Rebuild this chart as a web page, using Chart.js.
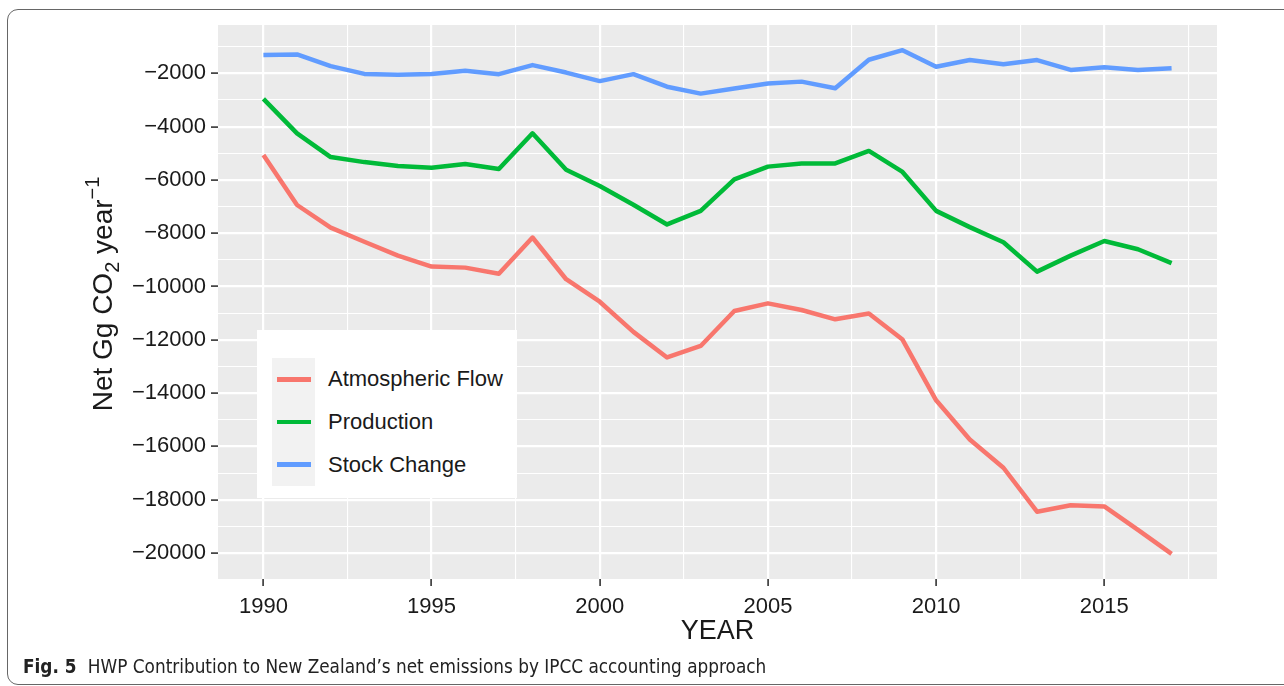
<!DOCTYPE html>
<html>
<head>
<meta charset="utf-8">
<script src="https://cdn.jsdelivr.net/npm/chart.js@4.4.1/dist/chart.umd.min.js"></script>
<style>
  body { margin: 0; background: #fff; }
  #wrap { position: relative; width: 1284px; height: 686px; overflow: hidden; }
  #chart { position: absolute; left: 0; top: 0; }
  #frame { position: absolute; left: 7px; top: 9px; width: 1320px; height: 676px; border: 1px solid #666;
           border-radius: 11px; box-sizing: border-box; pointer-events: none; }
  #caption { position: absolute; left: 23px; top: 656px; font-family: 'Liberation Sans Narrow', 'DejaVu Sans Condensed', sans-serif;
             font-size: 18.8px; color: #222; white-space: nowrap; }
  #caption b { margin-right: 6px; }
  #legend { position: absolute; left: 257px; top: 330px; width: 260px; height: 168px; background: #fff;
            box-sizing: border-box; padding: 28px 0 0 15px; font: 22px 'Liberation Sans', Arial, sans-serif; color: #1a1a1a; }
  #legend .row { display: flex; align-items: center; height: 42.67px; }
  #legend .key { width: 43px; height: 100%; background: #f2f2f2; display: flex; align-items: center; justify-content: center; }
  #legend .key i { display: block; width: 34px; height: 4.5px; }
  #legend .txt { margin-left: 13px; }
</style>
</head>
<body>
<div id="wrap">
  <canvas id="chart" width="1284" height="686"></canvas>
  <div id="legend"></div>
  <div id="frame"></div>
  <div id="caption"><b>Fig. 5</b> HWP Contribution to New Zealand’s net emissions by IPCC accounting approach</div>
</div>
<script>
// données (Gg CO2 / an)
const years = [1990, 1991, 1992, 1993, 1994, 1995, 1996, 1997, 1998, 1999, 2000, 2001, 2002, 2003,
               2004, 2005, 2006, 2007, 2008, 2009, 2010, 2011, 2012, 2013, 2014, 2015, 2016, 2017];

const atmosphericFlow = [-5060, -6940, -7790, -8320, -8840, -9250, -9290, -9520, -8160, -9725,
                         -10570, -11700, -12660, -12230, -10920, -10630, -10880, -11230, -11010, -11990,
                         -14270, -15740, -16800, -18450, -18210, -18250, -19130, -20030];

const production = [-2960, -4250, -5140, -5330, -5480, -5540, -5400, -5590, -4250, -5620,
                    -6230, -6930, -7670, -7160, -5980, -5500, -5380, -5380, -4910, -5700,
                    -7160, -7770, -8340, -9440, -8840, -8290, -8600, -9120];

const stockChange = [-1310, -1290, -1730, -2020, -2050, -2020, -1900, -2030, -1690, -1970,
                     -2290, -2030, -2500, -2760, -2570, -2380, -2310, -2560, -1490, -1130,
                     -1750, -1500, -1660, -1500, -1870, -1770, -1870, -1810];

const seriesNames = ['Atmospheric Flow', 'Production', 'Stock Change'];
const seriesColors = ['#F8766D', '#00BA38', '#619CFF'];

// graduations (majeures + mineures comme ggplot)
const xBreaks = [1990, 1992.5, 1995, 1997.5, 2000, 2002.5, 2005, 2007.5, 2010, 2012.5, 2015, 2017.5];
const xMajor = [1990, 1995, 2000, 2005, 2010, 2015];
const yBreaks = [-20000, -19000, -18000, -17000, -16000, -15000, -14000, -13000, -12000, -11000,
                 -10000, -9000, -8000, -7000, -6000, -5000, -4000, -3000, -2000, -1000];
const yMajor = [-20000, -18000, -16000, -14000, -12000, -10000, -8000, -6000, -4000, -2000];

// étendue +5% comme ggplot
const allValues = atmosphericFlow.concat(production, stockChange);
const yLo = Math.min(...allValues), yHi = Math.max(...allValues);
const yPad = (yHi - yLo) * 0.05;
const xPad = (years[years.length - 1] - years[0]) * 0.05;

const textColor = '#1a1a1a';
const tickFont = { family: "'Liberation Sans', Arial, sans-serif", size: 22 };

function isMajor(list, v) {
    return list.some(m => Math.abs(m - v) < 1e-6);
}

const panelBackground = {
    id: 'panelBackground',
    beforeDraw(chart) {
        const { ctx, chartArea } = chart;
        ctx.save();
        ctx.fillStyle = '#EBEBEB';
        ctx.fillRect(chartArea.left, chartArea.top, chartArea.right - chartArea.left, chartArea.bottom - chartArea.top);
        ctx.restore();
    }
};

// titre de l'axe Y avec indice et exposant
const yTitle = {
    id: 'yTitle',
    afterDraw(chart) {
        const { ctx, chartArea } = chart;
        const parts = [['Net Gg CO', 0, 28], ['2', 7, 20], [' year', 0, 28], ['\u22121', -13, 20]];
        ctx.save();
        ctx.translate(112, (chartArea.top + chartArea.bottom) / 2 - 8);
        ctx.rotate(-Math.PI / 2);
        ctx.fillStyle = textColor;
        ctx.textBaseline = 'alphabetic';
        let total = 0;
        parts.forEach(p => {
            ctx.font = p[2] + "px 'Liberation Sans', Arial, sans-serif";
            total += ctx.measureText(p[0]).width;
        });
        let x = -total / 2;
        parts.forEach(p => {
            ctx.font = p[2] + "px 'Liberation Sans', Arial, sans-serif";
            ctx.fillText(p[0], x, p[1]);
            x += ctx.measureText(p[0]).width;
        });
        ctx.restore();
    }
};

// légende HTML construite à partir des datasets
const htmlLegend = {
    id: 'htmlLegend',
    afterUpdate(chart) {
        const box = document.getElementById('legend');
        box.innerHTML = '';
        chart.data.datasets.forEach(ds => {
            const row = document.createElement('div');
            row.className = 'row';
            const key = document.createElement('span');
            key.className = 'key';
            const line = document.createElement('i');
            line.style.background = ds.borderColor;
            key.appendChild(line);
            const txt = document.createElement('span');
            txt.className = 'txt';
            txt.textContent = ds.label;
            row.appendChild(key);
            row.appendChild(txt);
            box.appendChild(row);
        });
    }
};

const seriesData = [atmosphericFlow, production, stockChange];

const ctx = document.getElementById('chart').getContext('2d');
const myChart = new Chart(ctx, {
    type: 'line',
    data: {
        datasets: seriesData.map((values, i) => ({
            label: seriesNames[i],
            data: years.map((yr, j) => ({ x: yr, y: values[j] })),
            borderColor: seriesColors[i],
            backgroundColor: seriesColors[i],
            borderWidth: 4.5,
            borderJoinStyle: 'round',
            pointRadius: 0,
            tension: 0,
            fill: false
        }))
    },
    options: {
        responsive: false,
        animation: false,
        events: [],
        layout: { padding: { top: 25, right: 67, left: 0, bottom: 0 } },
        plugins: {
            legend: { display: false },
            tooltip: { enabled: false }
        },
        scales: {
            x: {
                type: 'linear',
                min: years[0] - xPad,
                max: years[years.length - 1] + xPad,
                afterBuildTicks: axis => { axis.ticks = xBreaks.map(v => ({ value: v })); },
                afterFit: axis => { axis.height = 107; },
                border: { display: false },
                grid: {
                    color: '#FFFFFF',
                    lineWidth: c => isMajor(xMajor, c.tick.value) ? 2.2 : 1.1,
                    tickColor: c => isMajor(xMajor, c.tick.value) ? '#333333' : 'rgba(0,0,0,0)',
                    tickWidth: 1.6,
                    tickLength: 7
                },
                ticks: {
                    autoSkip: false,
                    maxRotation: 0,
                    padding: 8,
                    color: textColor,
                    font: tickFont,
                    callback: v => isMajor(xMajor, v) ? String(v) : ''
                },
                title: {
                    display: true,
                    text: 'YEAR',
                    color: textColor,
                    font: { family: "'Liberation Sans', Arial, sans-serif", size: 27 },
                    padding: { top: 0, bottom: 38 }
                }
            },
            y: {
                type: 'linear',
                min: yLo - yPad,
                max: yHi + yPad,
                afterBuildTicks: axis => { axis.ticks = yBreaks.map(v => ({ value: v })); },
                afterFit: axis => { axis.width = 218; },
                border: { display: false },
                grid: {
                    color: '#FFFFFF',
                    lineWidth: c => isMajor(yMajor, c.tick.value) ? 2.2 : 1.1,
                    tickColor: c => isMajor(yMajor, c.tick.value) ? '#333333' : 'rgba(0,0,0,0)',
                    tickWidth: 1.6,
                    tickLength: 7
                },
                ticks: {
                    autoSkip: false,
                    padding: 5,
                    color: textColor,
                    font: tickFont,
                    callback: v => isMajor(yMajor, v) ? '\u2212' + Math.abs(v) : ''
                }
            }
        }
    },
    plugins: [panelBackground, yTitle, htmlLegend]
});
</script>
</body>
</html>
